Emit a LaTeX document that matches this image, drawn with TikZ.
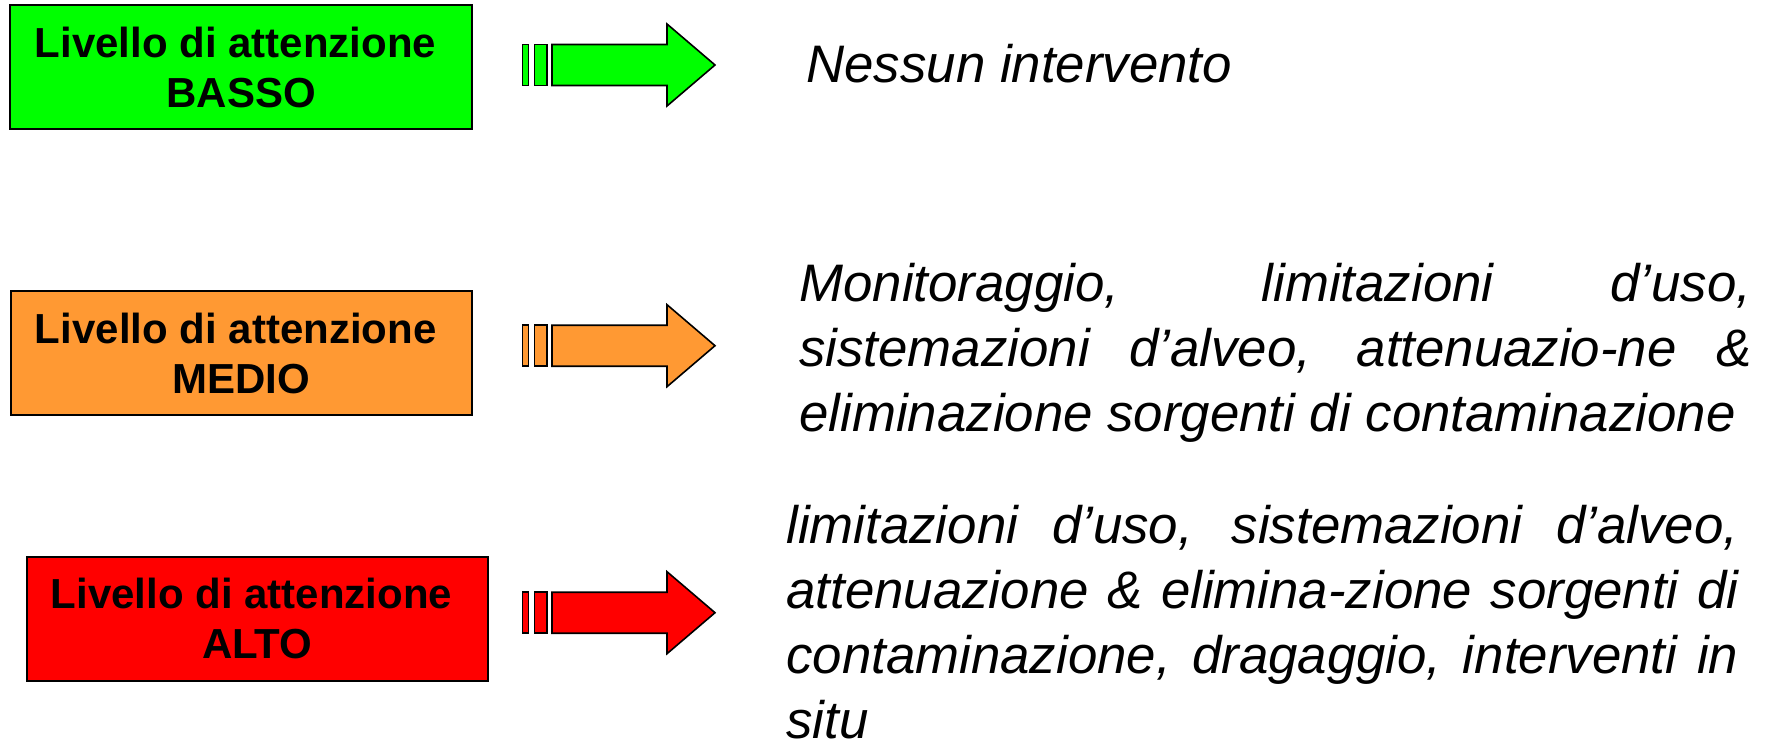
\documentclass[tikz,border=0pt]{standalone}
\usepackage{fontspec}
\setmainfont{Liberation Sans}
\hyphenpenalty=10000
\exhyphenpenalty=10000
\definecolor{lgreen}{HTML}{00FF00}
\definecolor{lorange}{HTML}{FF9933}
\definecolor{lred}{HTML}{FF0000}
\begin{document}
\begin{tikzpicture}[x=0.5pt,y=-0.5pt,
  levelbox/.style={draw=black, line width=1pt, minimum width=230.8pt, minimum height=62pt,
    inner sep=0pt, align=center, font=\bfseries\fontsize{21}{25}\selectfont},
  fatarrow/.style={draw=black, line width=0.8pt, line join=miter},
  desc/.style={anchor=base west, inner sep=0pt, text width=476pt, align=justify,
    font=\itshape\fontsize{26.4}{32.5}\selectfont}]
\fill[white] (0,0) rectangle (1770,744);
\useasboundingbox (0,0) rectangle (1770,744);

% level boxes
\node[levelbox, fill=lgreen]  (b1) at (241.2,67)  {Livello di attenzione\hspace*{0.278em}\\BASSO};
\node[levelbox, fill=lorange] (b2) at (241.5,353) {Livello di attenzione\hspace*{0.278em}\\MEDIO};
\node[levelbox, fill=lred]    (b3) at (257.3,618.7) {Livello di attenzione\hspace*{0.278em}\\ALTO};

% block arrows
\foreach \c/\col in {65/lgreen, 345.7/lorange, 612.7/lred}{
  \draw[fatarrow, fill=\col] (522.5,\c-20.5) rectangle (528.5,\c+20.5);
  \draw[fatarrow, fill=\col] (534.5,\c-20.5) rectangle (547,\c+20.5);
  \draw[fatarrow, fill=\col] (552,\c-20.5) -- (667,\c-20.5) -- (667,\c-41) -- (715,\c)
     -- (667,\c+41) -- (667,\c+20.5) -- (552,\c+20.5) -- cycle;
}

% descriptions
\node[desc] (t1) at (806,82) {Nessun intervento};
\node[desc] (t2) at (799,301) {Monitoraggio, limitazioni d’uso,\linebreak
  sistemazioni d’alveo, attenuazio-ne \&\linebreak
  eliminazione sorgenti di contaminazione};
\node[desc] (t3) at (786,543) {limitazioni d’uso, sistemazioni d’alveo,\linebreak
  attenuazione \& elimina-zione sorgenti di\linebreak
  contaminazione, dragaggio, interventi in\linebreak
  situ};
\end{tikzpicture}
\end{document}
